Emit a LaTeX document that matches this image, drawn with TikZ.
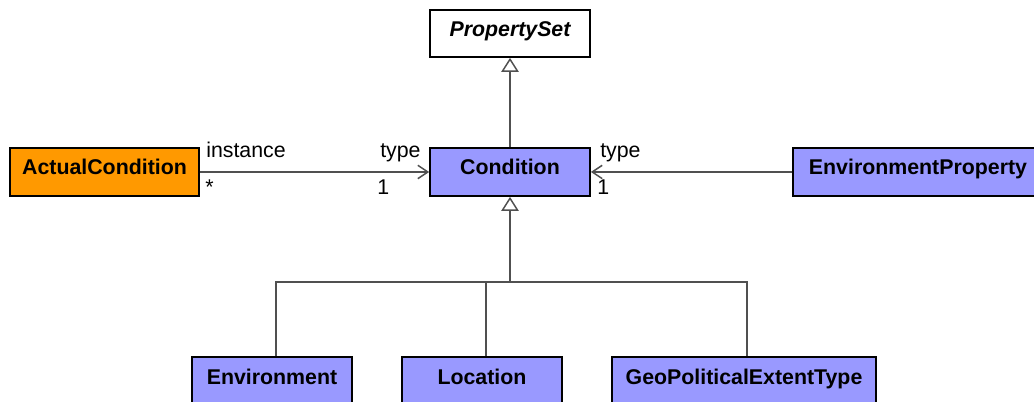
\documentclass[tikz,border=0pt]{standalone}
\usepackage{fontspec}
\setmainfont{Liberation Sans}
\usetikzlibrary{arrows.meta}
\definecolor{cls}{HTML}{9999FF}
\definecolor{act}{HTML}{FF9900}
\definecolor{ln}{HTML}{505050}
\tikzset{
  box/.style={draw=black, line width=1.3pt, fill=cls, inner sep=0pt,
    font=\fontsize{16}{18}\selectfont\bfseries, text=black,
    minimum height=36pt, text height=10pt, text depth=5.5pt},
  conn/.style={draw=ln, line width=1.1pt},
  gen/.style={conn, -{Triangle[open, fill=white, length=10.5pt, width=13pt]}},
  assoc/.style={conn, -{Straight Barb[length=7.5pt, width=10pt, line width=1.1pt]}},
  lbl/.style={font=\fontsize{16}{18}\selectfont, inner sep=0pt, anchor=base west},
}
\begin{document}
\begin{tikzpicture}[x=0.75pt, y=-0.75pt]
\useasboundingbox (0,0) rectangle (1034,402);
\clip (0,0) rectangle (1034,402);
\node[box, fill=white, minimum width=120pt, minimum height=35.25pt, font=\fontsize{16}{18}\selectfont\bfseries\itshape] (ps) at (510,33.5) {PropertySet};
\node[box, fill=act, minimum width=141.75pt] (ac) at (104.5,172) {ActualCondition};
\node[box, minimum width=120pt] (cond) at (510,172) {Condition};
\node[box, minimum width=187.5pt] (ep) at (918,172) {EnvironmentProperty};
\node[box, minimum width=120pt] (env) at (272,381) {Environment};
\node[box, minimum width=120pt] (loc) at (482,381) {Location};
\node[box, minimum width=198pt] (geo) at (744,381) {GeoPoliticalExtentType};

\coordinate (bus) at (510,282);
\draw[gen] (cond.north) -- (ps.south);
\draw[assoc] (ac.east) -- (cond.west);
\draw[assoc] (ep.west) -- (cond.east);
\draw[gen] (bus) -- (cond.south);
\draw[conn] (env.north -| 276,0) |- (bus);
\draw[conn] (loc.north -| 486,0) -- (486,282);
\draw[conn] (geo.north -| 747,0) |- (bus);

\node[lbl] (l1) at (206,158) {instance};
\node[lbl] (l2) at (205,195) {*};
\node[lbl] (l3) at (380,158) {type};
\node[lbl] (l4) at (377,195) {1};
\node[lbl] (l5) at (600,158) {type};
\node[lbl] (l6) at (597,195) {1};
\end{tikzpicture}
\end{document}
